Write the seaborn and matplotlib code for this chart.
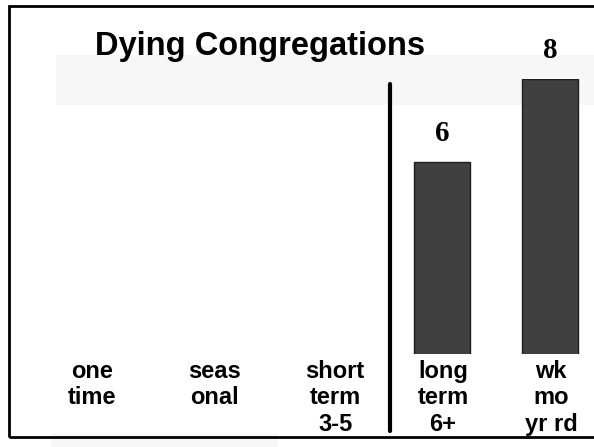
import matplotlib
matplotlib.use("Agg")
import matplotlib.pyplot as plt
import matplotlib.patches as mpatches
import seaborn as sns
import pandas as pd

# dane z wykresu
categories = ["one\ntime", "seas\nonal", "short\nterm\n3-5", "long\nterm\n6+", "wk\nmo\nyr rd"]
values = [0, 0, 0, 6, 8]
title = "Dying Congregations"

df = pd.DataFrame({"cat": categories, "val": values})

sns.set_theme(style="white")
plt.rcParams['font.family'] = ['Liberation Sans', 'DejaVu Sans']
plt.rcParams['text.color'] = 'black'
plt.rcParams['xtick.color'] = 'black'

fig = plt.figure(figsize=(5.94, 4.47), dpi=100)

# jasne tlo pod tytulem i pas na dole
fig.patches.append(mpatches.Rectangle((56 / 594, 1 - 105 / 447), 1, 50 / 447,
                                      transform=fig.transFigure, facecolor="#f7f7f7",
                                      edgecolor="none", zorder=-2))
fig.patches.append(mpatches.Rectangle((51 / 594, 0), 227 / 594, 13 / 447,
                                      transform=fig.transFigure, facecolor="#f7f7f7",
                                      edgecolor="none", zorder=-2))
# ramka
fig.patches.append(mpatches.Rectangle((9 / 594, 1 - 437 / 447), 1, 431 / 447,
                                      transform=fig.transFigure, facecolor="none",
                                      edgecolor="black", linewidth=2, zorder=5))

ax = fig.add_axes([10 / 594, 93 / 447, 584 / 594, 275 / 447])
ax.set_facecolor("none")
ax.set_zorder(1)

sns.barplot(data=df, x="cat", y="val", color="#404040", edgecolor="#1e1e1e",
            linewidth=1, width=0.51, saturation=1, ax=ax)

ax.set_ylim(1.37, 8)
ax.set_xlim(-1.0, 4.407)
for s in ax.spines.values():
    s.set_visible(False)
ax.set_yticks([])
ax.set_xlabel("")
ax.set_ylabel("")

# etykiety kategorii
ax.set_xticks([-0.24, 0.89, 2.01, 3.01, 4.01])
ax.set_xticklabels(categories, fontsize=17, fontweight="bold", linespacing=1.2,
                   color="black")
ax.tick_params(axis="x", length=0, pad=4)

# wartosci nad slupkami
for p, v in zip(ax.patches, values):
    if v > 0:
        ax.annotate(str(v), (p.get_x() + p.get_width() / 2, v),
                    xytext=(0, 11), textcoords="offset points",
                    ha="center", va="bottom", fontsize=21, fontweight="bold",
                    color="black", family=["Liberation Serif", "DejaVu Serif"])

# pionowa linia podzialu
ax.axvline(2.52, ymin=-0.28, ymax=0.982, color="black", linewidth=3, clip_on=False)

fig.text(95 / 594, 1 - 55 / 447, title, ha="left", va="baseline",
         fontsize=23.5, fontweight="bold", color="black")

plt.savefig("out.png", dpi=100)
plt.close()
